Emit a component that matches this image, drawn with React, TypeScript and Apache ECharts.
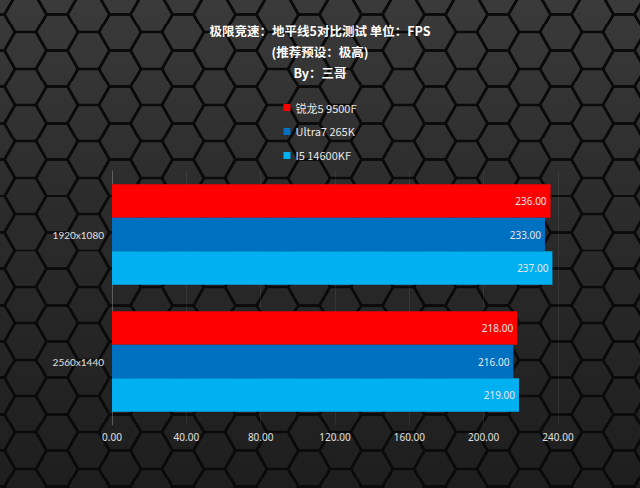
import { useEffect, useRef } from 'react';
import * as echarts from 'echarts';

const resolutions = ['1920x1080', '2560x1440'];
const seriesNames = ['锐龙5 9500F', 'Ultra7 265K', 'I5 14600KF'];
const fpsRyzen = [236, 218];
const fpsUltra = [233, 216];
const fpsI5 = [237, 219];
const barColors = ['#ff0000', '#0070c0', '#00b0f0'];

// hexagon tile for the page background (flat-top, size s)
const s = 21;
const h = Math.sqrt(3) * s;
const hex = (cx: number, cy: number) =>
  [
    [cx - s, cy],
    [cx - s / 2, cy - h / 2],
    [cx + s / 2, cy - h / 2],
    [cx + s, cy],
    [cx + s / 2, cy + h / 2],
    [cx - s / 2, cy + h / 2],
  ]
    .map((p) => p.map((v) => v.toFixed(2)).join(','))
    .join(' ');
const centers = [
  [0, 0],
  [0, h],
  [3 * s, 0],
  [3 * s, h],
  [1.5 * s, h / 2],
];
const hexSvg =
  `<svg xmlns='http://www.w3.org/2000/svg' width='${3 * s}' height='${h.toFixed(2)}'>` +
  centers
    .map(([x, y]) => `<polygon points='${hex(x, y)}' fill='none' stroke='#0a0a0a' stroke-width='2.6'/>`)
    .join('') +
  '</svg>';
const hexUrl = `url("data:image/svg+xml,${encodeURIComponent(hexSvg)}")`;

export default function App() {
  const chartRef = useRef<HTMLDivElement>(null);

  useEffect(() => {
    if (!chartRef.current) {
      return;
    }
    const chart = echarts.init(chartRef.current, null, { renderer: 'svg' });
    const valueFmt = (v: number) => v.toFixed(2);
    const makeSeries = (name: string, data: number[], color: string) => ({
      name,
      type: 'bar' as const,
      data,
      barGap: '0%',
      barCategoryGap: '21%',
      itemStyle: { color },
      label: {
        show: true,
        position: 'insideRight' as const,
        distance: 4,
        color: '#e8e8e8',
        fontSize: 10,
        fontFamily: 'Noto Sans',
        formatter: (p: any) => valueFmt(p.value),
      },
    });

    chart.setOption({
      animation: false,
      backgroundColor: 'transparent',
      textStyle: { fontFamily: "'Noto Sans CJK SC', 'Noto Sans', sans-serif" },
      title: {
        text: '极限竞速：地平线5对比测试 单位：FPS\n(推荐预设：极高)\nBy：三哥',
        left: 'center',
        top: 15,
        textStyle: {
          color: '#ffffff',
          fontSize: 12.5,
          fontWeight: 'bold',
          lineHeight: 21,
          fontFamily: "'Noto Sans CJK SC', sans-serif",
        },
      },
      legend: {
        orient: 'vertical',
        left: 'center',
        top: 97,
        itemGap: 13,
        itemWidth: 7,
        itemHeight: 7,
        icon: 'rect',
        data: seriesNames,
        textStyle: {
          color: '#e8e8e8',
          fontSize: 11,
          fontFamily: "'Noto Sans CJK SC', sans-serif",
        },
      },
      grid: { left: 112, right: 82, top: 171, bottom: 63 },
      xAxis: {
        type: 'value',
        min: 0,
        max: 240,
        interval: 40,
        axisLine: { show: false },
        axisTick: { show: false },
        axisLabel: {
          color: '#e0e0e0',
          fontSize: 10,
          margin: 7,
          fontFamily: 'Noto Sans',
          formatter: valueFmt,
        },
        splitLine: { lineStyle: { color: 'rgba(255,255,255,0.07)' } },
      },
      yAxis: {
        type: 'category',
        inverse: true,
        data: resolutions,
        axisLine: { show: true, lineStyle: { color: 'rgba(255,255,255,0.2)' } },
        axisTick: { show: false },
        axisLabel: {
          color: '#e0e0e0',
          fontSize: 10,
          margin: 8,
          fontFamily: 'Lato',
        },
      },
      series: [
        makeSeries(seriesNames[0], fpsRyzen, barColors[0]),
        makeSeries(seriesNames[1], fpsUltra, barColors[1]),
        makeSeries(seriesNames[2], fpsI5, barColors[2]),
      ],
    });

    return () => {
      chart.dispose();
    };
  }, []);

  return (
    <div
      style={{
        position: 'fixed',
        left: 0,
        top: 0,
        width: 640,
        height: 488,
        backgroundColor: '#262626',
        backgroundImage: `${hexUrl}, linear-gradient(180deg, #3a3a3a 0%, #2c2c2c 40%, #1e1e1e 100%)`,
        backgroundPosition: '-6px -4px, 0 0',
      }}
    >
      <div ref={chartRef} style={{ width: 640, height: 488 }} />
    </div>
  );
}
